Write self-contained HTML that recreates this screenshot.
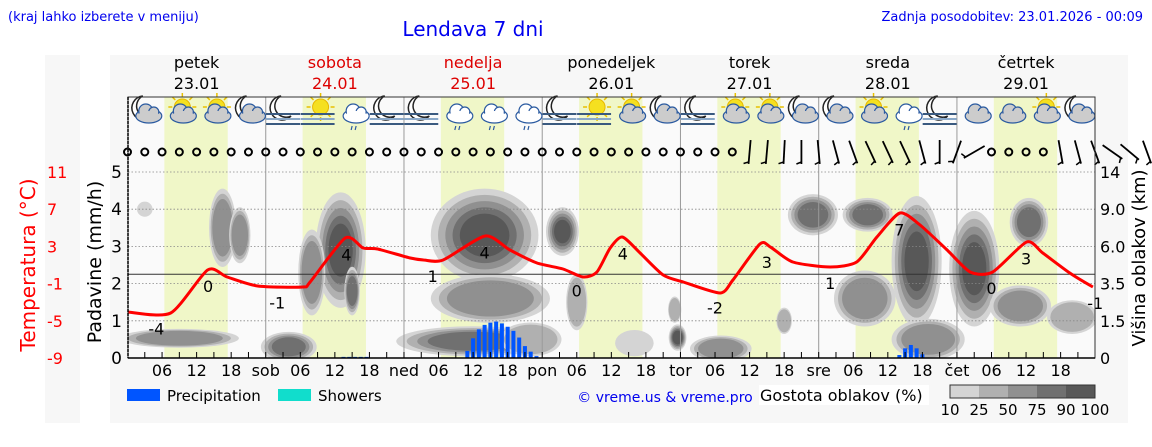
<!DOCTYPE html>
<html><head><meta charset="utf-8">
<style>
html,body{margin:0;padding:0;background:#fff;}
body{width:1152px;height:443px;overflow:hidden;font-family:"DejaVu Sans","Liberation Sans",sans-serif;}
svg text{font-family:"DejaVu Sans","Liberation Sans",sans-serif;}
</style></head>
<body>
<svg id="chart" width="1152" height="443" viewBox="0 0 1152 443" xmlns="http://www.w3.org/2000/svg">
<defs><clipPath id="plotclip"><rect x="128" y="160" width="967" height="198"/></clipPath></defs>
<rect x="0" y="0" width="1152" height="443" fill="#fff"/>
<rect x="45" y="55" width="35" height="368" fill="#f7f7f7"/>
<rect x="110" y="55" width="1018" height="368" fill="#f7f7f7"/>
<text x="8" y="21" font-size="13" fill="#0000ee">(kraj lahko izberete v meniju)</text>
<text x="473" y="36" font-size="20" fill="#0000ee" text-anchor="middle">Lendava 7 dni</text>
<text x="1143" y="21" font-size="13" fill="#0000ee" text-anchor="end">Zadnja posodobitev: 23.01.2026 - 00:09</text>
<g id="g-bands"></g>
<g id="g-clouds" clip-path="url(#plotclip)"></g>
<g id="g-grid"></g>
<g id="g-precip"></g>
<g id="g-temp"></g>
<g id="g-icons"></g>
<g id="g-wind"></g>
<g id="g-axes"></g>
<text transform="translate(35,265) rotate(-90)" font-size="20" fill="#ff0000" text-anchor="middle">Temperatura (°C)</text>
<text transform="translate(101,262) rotate(-90)" font-size="19" fill="#000" text-anchor="middle">Padavine (mm/h)</text>
<text transform="translate(1145,258) rotate(-90)" font-size="18" fill="#000" text-anchor="middle">Višina oblakov (km)</text>
<rect x="127" y="389" width="33" height="12" fill="#0055ff"/>
<text x="167" y="401" font-size="15" fill="#000">Precipitation</text>
<rect x="278" y="389" width="33" height="12" fill="#11ddcc"/>
<text x="318" y="401" font-size="15" fill="#000">Showers</text>
<text x="665" y="402" font-size="14" fill="#0000ee" text-anchor="middle">© vreme.us &amp; vreme.pro</text>
<rect x="759" y="385" width="170" height="20" fill="#fff"/>
<text x="760" y="401" font-size="16" fill="#000">Gostota oblakov (%)</text>
<g id="g-legend"></g>
</svg>
<script>
// ---- data ----
const tempHours=[0,7.5,13.9,17.3,22.6,30.4,31.7,37.8,40.9,43.4,49.1,51.4,54.8,62.1,66.4,71.1,75.6,79.1,81.5,83.8,85.9,89,93,96.5,102.9,105.1,109.8,111.6,115.5,122,126.6,130.1,134.1,137.6,142.3,146.3,150.2,156.1,158.9,163.6,167.6];
const tempValues=[-4.05,-4.16,0.46,-0.29,-1.26,-1.37,-0.83,3.9,2.83,2.72,1.75,1.54,1.54,4.12,2.61,1.22,0.57,-0.29,0.25,2.83,4.01,2.29,-0.08,-0.83,-2.01,-0.61,3.26,2.94,1.32,0.78,1.32,4.01,6.59,5.3,2.61,0.25,0.25,3.47,2.29,0.14,-1.37];
const tempLabelHours=[5,14,26,38,53,62,78,86,102,111,122,134,150,156,168];
const tempLabelText=["-4","0","-1","4","1","4","0","4","-2","3","1","7","0","3","-1"];
const precipHours=[37.5,38.5,39.5,40.5,41.5,59,60,61,62,63,64,65,66,67,68,69,70,71,72,134,135,136,137,138];
const precipValues=[0.03,0.03,0.03,0.03,0.03,0.19,0.53,0.77,0.89,0.95,0.98,0.93,0.84,0.73,0.55,0.32,0.17,0.05,0.01,0.08,0.26,0.35,0.26,0.1];
const cloudHour=[9,16.5,19.5,3,37,32,39,28,62,63,60,75.5,78,95.5,95,103,119,128.5,137,147,128,156.5,155,164,139,114,70,88];
const cloudLevel=[0.53,3.5,3.3,4.0,2.9,2.3,1.8,0.3,3.3,1.6,0.45,3.4,1.5,0.55,1.3,0.25,3.85,3.85,2.6,2.4,1.6,3.65,1.4,1.1,0.5,1.0,0.5,0.4];
const cloudHalfW=[10,2,1.5,1,4,2,1,4.5,9,10,13,2.5,1.5,1.2,0.8,5,4,4,4,4,5,3,5,4,6,1,5,3];
const cloudHalfH=[0.2,1.0,0.7,0.15,1.5,1.1,0.6,0.35,1.2,0.6,0.35,0.6,0.7,0.3,0.3,0.3,0.5,0.4,1.7,1.5,0.7,0.6,0.5,0.4,0.5,0.3,0.4,0.3];
const cloudDensity=[3,3,3,1,5,3,4,4,5,3,4,5,2,5,2,3,4,4,5,5,3,4,3,2,3,2,2,1];
const precipTicks=["0","1","2","3","4","5"];
const tempTicks=["-9","-5","-1","3","7","11"];
const heightTicks=["0","1.5","3.5","6.0","9.0","14"];
const dayNames=["petek","sobota","nedelja","ponedeljek","torek","sreda","četrtek"];
const dayDates=["23.01","24.01","25.01","26.01","27.01","28.01","29.01"];
const dayAbbr=["","sob","ned","pon","tor","sre","čet"];
const windDir=[null,null,null,null,null,null,null,null,null,null,null,null,null,null,null,null,null,null,null,null,null,null,null,null,null,null,null,null,null,null,null,null,null,null,null,null,5,5,3,0,-5,-15,-20,-25,-25,-25,-15,0,20,60,null,null,null,null,-10,-15,-20,-55,-50,-20];
const iconTypes=["mc","sc","sc","mc","mf","sf","cr","mf","mf","cr","cr","cr","mf","sf","sc","mc","mf","sc","sc","mc","mc","sc","cr","mf","c","c","sc","mc"];
const densityColors=["#d4d4d4","#b0b0b0","#909090","#707070","#585858"];
const densityLabels=["10","25","50","75","90","100"];
// ---- scales ----
const X0=127.5,PXH=5.76;
const xH=h=>X0+h*PXH;
const yP=v=>358-v*37.2;
const yT=t=>358-(t+9)*9.3;
const NS="http://www.w3.org/2000/svg";
function mk(tag,attrs,parent){const e=document.createElementNS(NS,tag);for(const k in attrs)e.setAttribute(k,attrs[k]);parent.appendChild(e);return e;}
function tempAt(h){for(let i=0;i<tempHours.length-1;i++){if(h<=tempHours[i+1]){const f=(h-tempHours[i])/(tempHours[i+1]-tempHours[i]);return tempValues[i]+f*(tempValues[i+1]-tempValues[i]);}}return tempValues[tempValues.length-1];}
const gB=document.getElementById('g-bands'),gC=document.getElementById('g-clouds'),gG=document.getElementById('g-grid'),gP=document.getElementById('g-precip'),gT=document.getElementById('g-temp'),gI=document.getElementById('g-icons'),gW=document.getElementById('g-wind'),gA=document.getElementById('g-axes'),gL=document.getElementById('g-legend');
let bg=mk('rect',{x:128,y:97,width:967,height:261,fill:'#fafafa'},gB);


for(let d=0;d<7;d++){
 let r=mk('rect',{x:xH(d*24+6.4),y:97,width:11*PXH,height:261,fill:'#f0f7c8'},gB);
 
 
 let n=mk('text',{x:xH(d*24+12),y:68,'font-size':16,'text-anchor':'middle',fill:(d==1||d==2)?'#dd0000':'#000'},gB);n.textContent=dayNames[d];
 
 
 let t=mk('text',{x:xH(d*24+12),y:89,'font-size':16,'text-anchor':'middle',fill:(d==1||d==2)?'#dd0000':'#000'},gB);t.textContent=dayDates[d];
 
 
}
// clouds
const scales=[1,0.86,0.72,0.58,0.44];
for(let i=0;i<cloudHour.length;i++){
 for(let k=0;k<cloudDensity[i];k++){
  let e=mk('ellipse',{cx:xH(cloudHour[i]),cy:yP(cloudLevel[i]),rx:cloudHalfW[i]*PXH*scales[k]+2,ry:cloudHalfH[i]*37.2*scales[k]+2,fill:densityColors[k]},gC);
  
  
 }
}
// grid
for(let i=1;i<=5;i++){let l=mk('line',{x1:128,x2:1095,y1:yP(i),y2:yP(i),stroke:'#888','stroke-width':0.8,'stroke-dasharray':'1.5,2'},gG);
 
 }
for(let d=1;d<7;d++){let l=mk('line',{x1:xH(d*24),x2:xH(d*24),y1:97,y2:358,stroke:'#999','stroke-width':1},gG);
 
 }
let zl=mk('line',{x1:128,x2:1095,y1:yT(0),y2:yT(0),stroke:'#333','stroke-width':1},gG);


// precip bars
for(let i=0;i<precipHours.length;i++){
 const y=yP(precipValues[i]);
 let b=mk('rect',{x:xH(precipHours[i])-2,y:y,width:4,height:358-y,fill:'#0055ff'},gP);
 
 
}
// temp line (smoothed catmull-rom)
const pts=tempHours.map((h,i)=>[xH(h),yT(tempValues[i])]);
let d='M'+pts[0][0].toFixed(1)+','+pts[0][1].toFixed(1);
for(let i=0;i<pts.length-1;i++){
 const p0=pts[Math.max(0,i-1)],p1=pts[i],p2=pts[i+1],p3=pts[Math.min(pts.length-1,i+2)];
 const t=0.12;
 const c1=[p1[0]+(p2[0]-p0[0])*t,p1[1]+(p2[1]-p0[1])*t],c2=[p2[0]-(p3[0]-p1[0])*t,p2[1]-(p3[1]-p1[1])*t];
 d+=`C${c1[0].toFixed(1)},${c1[1].toFixed(1)} ${c2[0].toFixed(1)},${c2[1].toFixed(1)} ${p2[0].toFixed(1)},${p2[1].toFixed(1)}`;
}
let tl=mk('path',{d:d,fill:'none',stroke:'#ff0000','stroke-width':3,'stroke-linejoin':'round'},gT);


for(let i=0;i<tempLabelHours.length;i++){
 let t=mk('text',{x:xH(tempLabelHours[i]),y:yT(tempAt(tempLabelHours[i]))+22,'font-size':16,'text-anchor':'middle',fill:'#000'},gT);
 t.textContent=tempLabelText[i];
 
 
}
// icons
function icon(type,cx,cy){
 const g=mk('g',{},gI);
 
 
 if(type[0]=='s'){mk('circle',{cx:cx+3,cy:cy-5,r:8,fill:'#f5e020',stroke:'#e8b800','stroke-width':1},g);
  for(let a=0;a<8;a++){const r=a*Math.PI/4;mk('line',{x1:cx+3+Math.cos(r)*10,y1:cy-5+Math.sin(r)*10,x2:cx+3+Math.cos(r)*14,y2:cy-5+Math.sin(r)*14,stroke:'#e8c000','stroke-width':1.5},g);}}
 if(type[0]=='m'){mk('path',{d:`M${cx-2},${cy-16} A12,12 0 1,0 ${cx+8},${cy+4} A9,9 0 1,1 ${cx-2},${cy-16}Z`,fill:'#fff',stroke:'#222','stroke-width':1.5},g);}
 if(type=='c'||type[1]=='c'||type=='cr'){
  const col=type=='cr'?'#fff':'#ccc';
  mk('ellipse',{cx:cx+4,cy:cy+4,rx:13,ry:7,fill:col,stroke:'#2a5aa0','stroke-width':1.2},g);
  mk('circle',{cx:cx+1,cy:cy-1,r:7,fill:col,stroke:'#2a5aa0','stroke-width':1.2},g);
  mk('circle',{cx:cx+9,cy:cy,r:5,fill:col,stroke:'#2a5aa0','stroke-width':1.2},g);
  mk('ellipse',{cx:cx+4,cy:cy+4,rx:11,ry:5,fill:col},g);
 }
 if(type=='cr'){mk('line',{x1:cx,y1:cy+14,x2:cx-1,y2:cy+18,stroke:'#2a5aa0','stroke-width':1.2},g);mk('line',{x1:cx+4,y1:cy+14,x2:cx+3,y2:cy+18,stroke:'#2a5aa0','stroke-width':1.2},g);}
 if(type[1]=='f'){for(let k=0;k<3;k++)mk('line',{x1:cx-17,x2:cx+17,y1:cy+2+k*5,y2:cy+2+k*5,stroke:k==1?'#8aa8c8':'#3a5a80','stroke-width':2},g);}
}
for(let i=0;i<iconTypes.length;i++)icon(iconTypes[i],xH(3+i*6),112);
// wind
for(let i=0;i<windDir.length;i++){
 const x=xH(i*3),y=152;
 if(windDir[i]===null){let c=mk('circle',{cx:x,cy:y,r:3.5,fill:'none',stroke:'#000','stroke-width':2},gW);
  
  }
 else{let g=mk('g',{transform:`translate(${x},${y}) rotate(${windDir[i]})`},gW);
  
  
  mk('line',{x1:0,y1:-12,x2:0,y2:12,stroke:'#000','stroke-width':1.8},g);
  mk('line',{x1:0,y1:10,x2:-5,y2:12,stroke:'#000','stroke-width':1.5},g);}
}
// axes
let ax=mk('rect',{x:128,y:97,width:967,height:261,fill:'none',stroke:'#333','stroke-width':1},gA);


mk('line',{x1:128,x2:128,y1:97,y2:358,stroke:'#000','stroke-width':1.5,'stroke-dasharray':'3,1'},gA);
mk('line',{x1:128,x2:1095,y1:358,y2:358,stroke:'#000','stroke-width':1.5},gA);
for(let i=0;i<6;i++){
 let t=mk('text',{x:122,y:yP(i)+6,'font-size':17,'text-anchor':'end',fill:'#000'},gA);t.textContent=precipTicks[i];
 
 
 let tt=mk('text',{x:47,y:yP(i)+6,'font-size':16,fill:'#ff0000'},gA);tt.textContent=tempTicks[i];
 
 
 let th=mk('text',{x:1100,y:yP(i)+6,'font-size':16,fill:'#000'},gA);th.textContent=heightTicks[i];
 
 
}
for(let h=3;h<168;h+=3){mk('line',{x1:xH(h),x2:xH(h),y1:352,y2:358,stroke:'#000','stroke-width':1},gA);}
for(let dd=0;dd<7;dd++){
 const labs=[dayAbbr[dd],"06","12","18"];
 for(let k=0;k<4;k++){if(!labs[k])continue;
  let t=mk('text',{x:xH(dd*24+k*6),y:376,'font-size':16,'text-anchor':'middle',fill:'#000'},gA);t.textContent=labs[k];
  
  }
}
// legend
for(let i=0;i<5;i++){let r=mk('rect',{x:950+i*29,y:385,width:29,height:13,fill:densityColors[i]},gL);
 
 }
mk('rect',{x:950,y:385,width:145,height:13,fill:'none',stroke:'#333','stroke-width':1},gL);
for(let i=0;i<6;i++){let t=mk('text',{x:950+i*29,y:415,'font-size':15,'text-anchor':'middle',fill:'#000'},gL);t.textContent=densityLabels[i];
 
 }
</script>
</body></html>
